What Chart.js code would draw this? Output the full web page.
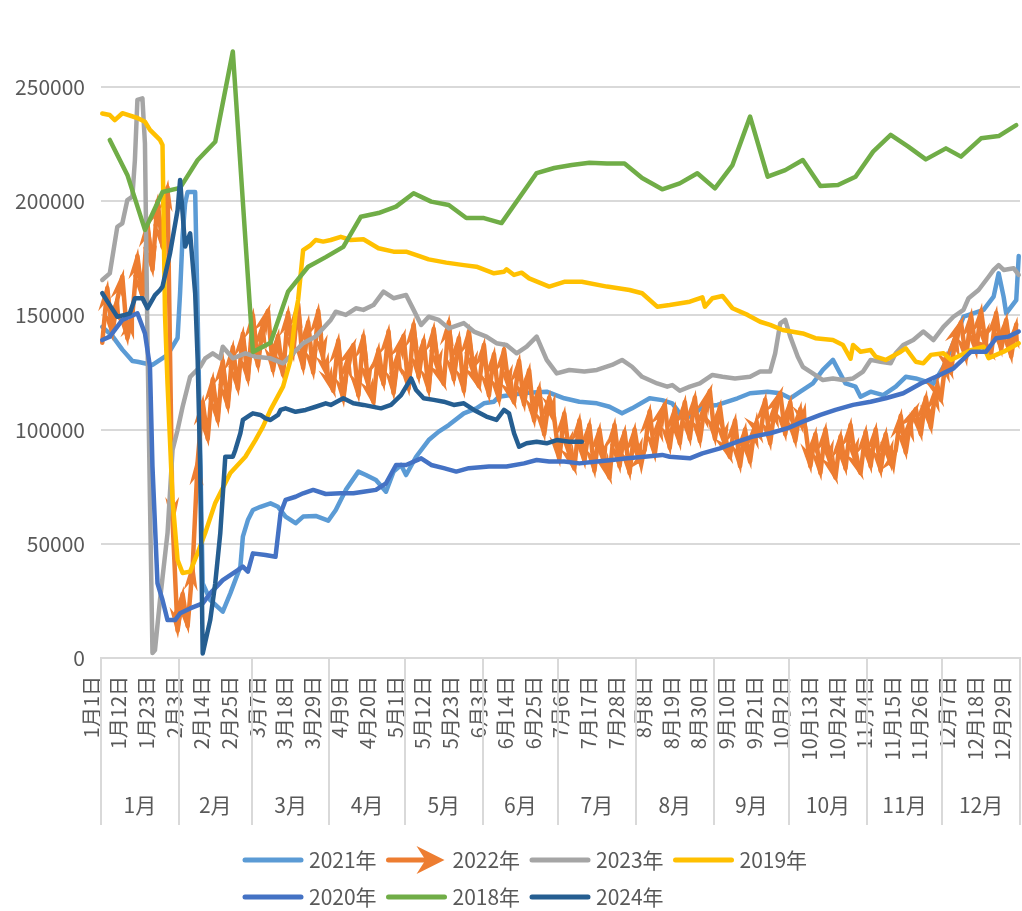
<!DOCTYPE html>
<html>
<head>
<meta charset="utf-8">
<script src="https://cdn.jsdelivr.net/npm/chart.js"></script>
<style>
  html, body { margin: 0; padding: 0; background: #fff; }
</style>
</head>
<body>
<canvas id="yearChart" width="1022" height="911"></canvas>
<script>
  // categories: every day of a leap year, grouped by month
  var monthNames = ['1月','2月','3月','4月','5月','6月','7月','8月','9月','10月','11月','12月'];
  var monthDays = [31, 29, 31, 30, 31, 30, 31, 31, 30, 31, 30, 31];
  var labelEvery = 11; // a date label every 11 days
  var yTicks = [0, 50000, 100000, 150000, 200000, 250000];

  var years = ['2021年','2022年','2023年','2019年','2020年','2018年','2024年'];
  var colors = ['#5B9BD5','#ED7D31','#A5A5A5','#FFC000','#4472C4','#70AD47','#255E91'];

  // [day of year (0 = 1月1日), value]
  var s2021 = [[0,145000],[4,141000],[8,135000],[12,130000],[14,129700],[20,128300],[26,132700],[30,140100],[31,160000],[32,185000],[33,199000],[34,204000],[37,204000],[38,150000],[40,32700],[43,25400],[48,20300],[51,28300],[55,40000],[56,53100],[58,60400],[60,64800],[63,66200],[67,67700],[70,66200],[73,61900],[77,59000],[80,61900],[85,62200],[90,60100],[93,64800],[97,73600],[102,81600],[105,80100],[109,77900],[113,72800],[116,81600],[119,84500],[121,80100],[125,88100],[130,95400],[134,99100],[138,102000],[144,107100],[149,109300],[152,111500],[156,112200],[158,114400],[168,116000],[177,116600],[184,113700],[190,112200],[197,111500],[202,110000],[207,107100],[211,109300],[218,113700],[223,112900],[227,111500],[229,108600],[231,104900],[235,106000],[239,110000],[245,110800],[253,113700],[258,115900],[265,116600],[270,115900],[274,113700],[278,116600],[283,120200],[287,126100],[291,130500],[296,120200],[300,118800],[302,114400],[306,116600],[311,115100],[316,118800],[320,123100],[324,122400],[331,120000],[335,127500],[340,140700],[343,149400],[351,152400],[355,158200],[357,168400],[359,158000],[360,150900],[364,156700],[365,176000]];

  // 2022: one value every 2nd day from 1月1日
  var step2022 = 2;
  var v2022 = [138000,162000,142000,157000,167000,140000,
    150000,176000,158000,190000,170000,200000,180000,206000,
    60000,12000,28000,14000,40000,
    86000,112000,96000,122000,104000,130000,110000,136000,118000,142000,122000,
    150000,128000,146000,152000,126000,141000,124000,151000,133000,155000,127000,147000,125000,152000,131000,123000,
    117000,139000,113000,132000,137000,115000,141000,119000,112000,135000,120000,143000,116000,134000,
    141000,118000,146000,123000,139000,117000,144000,125000,120000,147000,122000,140000,117000,143000,124000,119000,
    137000,115000,133000,113000,135000,118000,112000,
    130000,111000,126000,104000,118000,98000,114000,
    105000,87000,107000,89000,83000,104000,86000,102000,82000,100000,85000,79000,102000,84000,99000,81000,100000,86000,
    91000,108000,89000,105000,111000,92000,109000,94000,112000,96000,
    114000,95000,111000,117000,96000,110000,93000,
    88000,104000,84000,100000,86000,102000,
    97000,113000,94000,111000,116000,98000,112000,95000,109000,
    101000,84000,98000,81000,100000,85000,79000,97000,83000,102000,86000,81000,99000,84000,100000,82000,98000,85000,
    91000,106000,90000,105000,109000,
    98000,114000,101000,118000,
    113000,131000,125000,142000,
    147000,131000,150000,134000,152000,136000,133000,151000,135000,148000,132000,146000];

  var s2023 = [[0,165500],[3,168400],[6,188800],[8,190300],[10,200500],[12,202000],[13,218000],[14,244300],[16,245000],[17,225300],[18,140000],[19,69200],[20,2200],[21,3500],[23,25400],[26,54700],[28,91100],[30,99800],[32,110000],[35,123100],[39,127500],[41,131200],[44,133400],[47,131200],[48,136300],[52,131200],[57,133400],[61,131900],[67,131200],[72,129000],[76,133400],[80,137800],[85,140700],[91,148000],[93,151600],[97,150200],[101,153100],[104,152400],[108,154500],[112,160400],[116,157500],[121,158900],[124,152400],[127,145800],[130,149400],[134,148000],[138,144300],[144,146600],[148,142900],[153,140700],[157,137800],[161,137000],[165,133400],[169,136300],[173,140700],[177,130500],[181,124600],[186,126100],[192,125400],[197,126100],[203,128300],[207,130500],[211,127500],[215,123100],[221,120200],[225,118800],[227,119500],[230,117000],[234,118800],[238,120200],[243,123900],[247,123100],[252,122400],[258,123100],[262,125400],[266,125400],[268,133400],[270,146500],[272,148000],[274,140700],[277,131900],[279,127500],[283,124600],[287,121700],[291,122400],[295,121700],[299,122400],[303,125400],[306,130500],[310,129700],[314,129000],[316,133400],[319,137000],[323,139200],[327,142900],[331,139200],[335,145000],[339,149400],[343,152400],[345,157500],[349,161100],[353,166900],[355,169900],[357,172000],[359,169900],[363,170600],[365,167700]];

  var s2019 = [[0,238400],[3,237700],[5,235500],[8,238500],[14,236400],[17,234800],[19,231200],[23,226800],[24,224600],[25,150000],[26,120000],[28,69200],[30,42900],[32,37200],[35,37800],[38,46000],[41,54700],[45,67900],[51,81000],[57,88100],[61,95400],[64,101300],[67,108600],[72,118800],[75,130500],[77,151000],[78,156700],[80,178600],[83,180800],[85,183000],[88,182300],[91,183000],[95,184400],[99,183000],[104,183300],[110,179400],[116,177900],[121,177900],[126,176000],[130,174500],[137,173100],[144,172000],[149,171300],[156,168400],[160,169100],[161,170200],[164,167700],[167,168700],[170,166200],[178,162600],[184,164700],[191,164700],[201,162600],[210,161100],[215,159700],[221,153800],[226,154500],[234,156000],[239,157900],[240,153800],[243,157500],[247,158500],[251,153100],[257,150200],[262,147200],[266,145800],[271,143600],[279,142100],[284,140000],[291,139200],[295,137000],[298,131000],[299,137000],[302,134100],[306,134800],[308,131900],[312,130500],[318,134100],[320,135600],[324,129700],[327,129000],[330,132700],[335,133400],[338,130500],[346,134800],[351,136300],[353,131300],[359,134100],[365,137800]];

  var s2020 = [[0,139200],[3,140700],[8,148000],[14,150900],[17,142100],[19,127500],[20,83800],[22,32700],[24,25400],[26,16600],[29,16600],[31,19600],[35,21700],[40,23900],[43,28300],[48,34100],[54,38500],[56,40000],[58,37800],[60,45800],[65,45100],[69,44300],[71,63300],[73,69200],[77,70600],[80,72100],[84,73600],[89,71800],[95,72100],[100,72100],[104,72800],[109,73600],[113,76500],[117,84500],[121,84500],[127,87400],[131,84500],[136,83100],[141,81600],[146,83100],[154,83800],[161,83800],[168,85200],[173,86700],[178,86000],[184,86000],[190,85200],[197,86000],[203,86700],[209,87400],[216,88100],[223,88900],[226,88100],[234,87400],[239,89600],[246,91800],[253,94700],[259,96900],[266,98400],[273,100600],[279,103500],[286,106400],[292,108600],[299,110800],[306,112200],[312,113700],[319,115900],[326,120200],[332,123100],[339,126800],[346,134100],[352,134100],[356,140000],[361,140700],[365,142900]];

  var s2018 = [[3,226800],[10,211500],[17,187400],[24,204000],[31,205800],[38,218000],[45,226000],[52,265500],[60,134000],[67,138000],[74,160400],[82,171300],[89,175500],[96,180000],[103,193200],[110,194800],[117,197600],[124,203500],[131,199800],[138,198300],[145,192600],[152,192600],[159,190400],[173,212300],[180,214500],[187,215800],[194,216800],[201,216500],[208,216500],[215,210100],[223,205200],[230,207800],[237,212200],[244,205600],[251,215800],[258,237000],[265,210700],[272,213600],[279,218000],[286,206600],[293,207100],[300,210700],[307,221700],[314,229000],[321,223900],[328,218300],[336,223100],[342,219500],[350,227500],[357,228500],[364,233300]];

  var s2024 = [[0,159700],[3,154500],[6,149400],[9,150200],[11,150900],[13,157500],[16,157500],[18,153100],[21,158900],[23,161100],[24,162600],[27,177200],[30,196100],[31,209300],[33,180100],[35,185900],[37,159700],[38,130500],[39,83800],[40,2000],[43,16600],[45,32700],[47,54600],[49,88100],[52,88100],[53,91100],[55,98400],[56,104200],[59,106400],[60,107100],[63,106400],[65,104900],[67,104200],[70,106400],[71,108600],[73,109300],[77,107800],[81,108600],[85,110000],[89,111500],[91,110800],[96,113700],[100,111500],[104,110800],[111,109300],[115,110800],[119,115100],[123,122400],[125,117300],[128,113700],[132,113000],[136,112200],[140,110800],[144,111500],[148,108600],[153,105700],[157,104200],[160,108600],[162,107100],[164,98400],[166,92500],[169,94000],[173,94700],[177,94000],[181,95400],[186,94700],[191,94700]];

  // build the daily categories
  var categories = [];
  var monthStart = [];
  monthDays.forEach(function(n, m) {
    monthStart.push(categories.length);
    for (var d = 1; d <= n; d++) categories.push((m + 1) + '月' + d + '日');
  });
  var dayCount = categories.length;

  function daily(pairs) {
    var arr = new Array(dayCount).fill(null);
    pairs.forEach(function(p) { arr[p[0]] = p[1]; });
    return arr;
  }
  var d2022 = new Array(dayCount).fill(null);
  v2022.forEach(function(v, i) { d2022[i * step2022] = v; });

  var seriesData = [daily(s2021), d2022, daily(s2023), daily(s2019), daily(s2020), daily(s2018), daily(s2024)];

  var fontFamily = '"Noto Sans CJK SC", "Noto Sans", sans-serif';
  var textColor = '#595959';
  var gridColor = '#d9d9d9';

  // stealth arrow head pointing from (x0,y0) to (x1,y1), tip a little past the point
  function drawArrow(ctx, x0, y0, x1, y1, len, half, over) {
    var a = Math.atan2(y1 - y0, x1 - x0);
    ctx.save();
    ctx.translate(x1, y1);
    ctx.rotate(a);
    ctx.beginPath();
    ctx.moveTo(over, 0);
    ctx.lineTo(over - len, -half);
    ctx.lineTo(over - len * 0.7, 0);
    ctx.lineTo(over - len, half);
    ctx.closePath();
    ctx.fill();
    ctx.restore();
  }

  // arrow heads on every segment of the 2022 line
  var arrowPlugin = {
    id: 'arrowHeads',
    afterDatasetDraw: function(chart, args) {
      if (chart.data.datasets[args.index].label !== '2022年') return;
      var pts = args.meta.data.filter(function(p) { return !p.skip; });
      var ctx = chart.ctx;
      ctx.save();
      ctx.fillStyle = colors[1];
      for (var i = 1; i < pts.length; i++) {
        drawArrow(ctx, pts[i - 1].x, pts[i - 1].y, pts[i].x, pts[i].y, 32, 7, 8);
      }
      ctx.restore();
    }
  };

  // month row under the date labels, plus the legend
  var bottomPlugin = {
    id: 'monthRow',
    afterDraw: function(chart) {
      var ctx = chart.ctx;
      var xs = chart.scales.x;
      var per = xs.width / dayCount;
      var top = chart.chartArea.bottom;
      ctx.save();
      ctx.strokeStyle = gridColor;
      ctx.lineWidth = 2;
      var bounds = monthStart.concat([dayCount]);
      bounds.forEach(function(b) {
        var x = Math.round(xs.left + b * per);
        ctx.beginPath();
        ctx.moveTo(x, top);
        ctx.lineTo(x, 825);
        ctx.stroke();
      });
      ctx.fillStyle = textColor;
      ctx.font = '21px ' + fontFamily;
      ctx.textAlign = 'center';
      ctx.textBaseline = 'middle';
      monthNames.forEach(function(name, m) {
        var mid = xs.left + (monthStart[m] + monthDays[m] / 2) * per;
        ctx.fillText(name, mid, 805);
      });

      // legend: two rows, left aligned
      var rows = [[0, 1, 2, 3], [4, 5, 6]];
      var rowY = [860, 897];
      ctx.textAlign = 'left';
      rows.forEach(function(row, r) {
        row.forEach(function(k, j) {
          var x = 245 + j * 143.5;
          var y = rowY[r];
          ctx.strokeStyle = colors[k];
          ctx.fillStyle = colors[k];
          ctx.lineWidth = 5;
          ctx.lineCap = 'round';
          ctx.beginPath();
          if (k === 1) {
            ctx.moveTo(x, y);
            ctx.lineTo(x + 38, y);
            ctx.stroke();
            ctx.beginPath();
            ctx.moveTo(x + 56, y);
            ctx.lineTo(x + 28, y - 14);
            ctx.lineTo(x + 37, y);
            ctx.lineTo(x + 28, y + 14);
            ctx.closePath();
            ctx.fill();
          } else {
            ctx.moveTo(x, y);
            ctx.lineTo(x + 56, y);
            ctx.stroke();
          }
          ctx.fillStyle = textColor;
          ctx.fillText(years[k], x + 64, y);
        });
      });
      ctx.restore();
    }
  };

  var orderTop = [6, 5, 4, 3, 2, 1, 0];
  var datasets = years.map(function(name, k) {
    return {
      label: name,
      data: seriesData[k],
      borderColor: colors[k],
      backgroundColor: colors[k],
      borderWidth: 4.5,
      borderCapStyle: 'round',
      borderJoinStyle: 'round',
      pointRadius: 0,
      tension: 0,
      spanGaps: true,
      order: orderTop[k]
    };
  });

  Chart.defaults.font.family = fontFamily;

  new Chart(document.getElementById('yearChart').getContext('2d'), {
    type: 'line',
    data: { labels: categories, datasets: datasets },
    options: {
      responsive: false,
      animation: false,
      events: [],
      layout: { padding: { top: 7, right: 2, left: 0, bottom: 0 } },
      plugins: {
        legend: { display: false },
        tooltip: { enabled: false }
      },
      scales: {
        x: {
          type: 'category',
          offset: true,
          grid: { display: false, drawTicks: false },
          border: { display: true, color: gridColor, width: 2 },
          ticks: {
            autoSkip: false,
            minRotation: 90,
            maxRotation: 90,
            padding: 18,
            labelOffset: -11,
            color: textColor,
            font: { size: 20 },
            callback: function(v, i) { return i % labelEvery === 0 ? this.getLabelForValue(v) : ''; }
          },
          afterFit: function(s) { s.height = 253; s.paddingLeft = 0; s.paddingRight = 0; }
        },
        y: {
          min: 0,
          max: 285000,
          bounds: 'data',
          ticks: {
            autoSkip: false,
            padding: 16,
            color: textColor,
            font: { size: 21 },
            callback: function(v) { return String(v); }
          },
          afterBuildTicks: function(s) {
            s.ticks = yTicks.map(function(v) { return { value: v }; });
          },
          grid: { color: gridColor, lineWidth: 2, drawTicks: false },
          border: { display: false },
          afterFit: function(s) { s.width = 101; s.paddingTop = 0; s.paddingBottom = 0; }
        }
      }
    },
    plugins: [arrowPlugin, bottomPlugin]
  });
</script>
</body>
</html>
